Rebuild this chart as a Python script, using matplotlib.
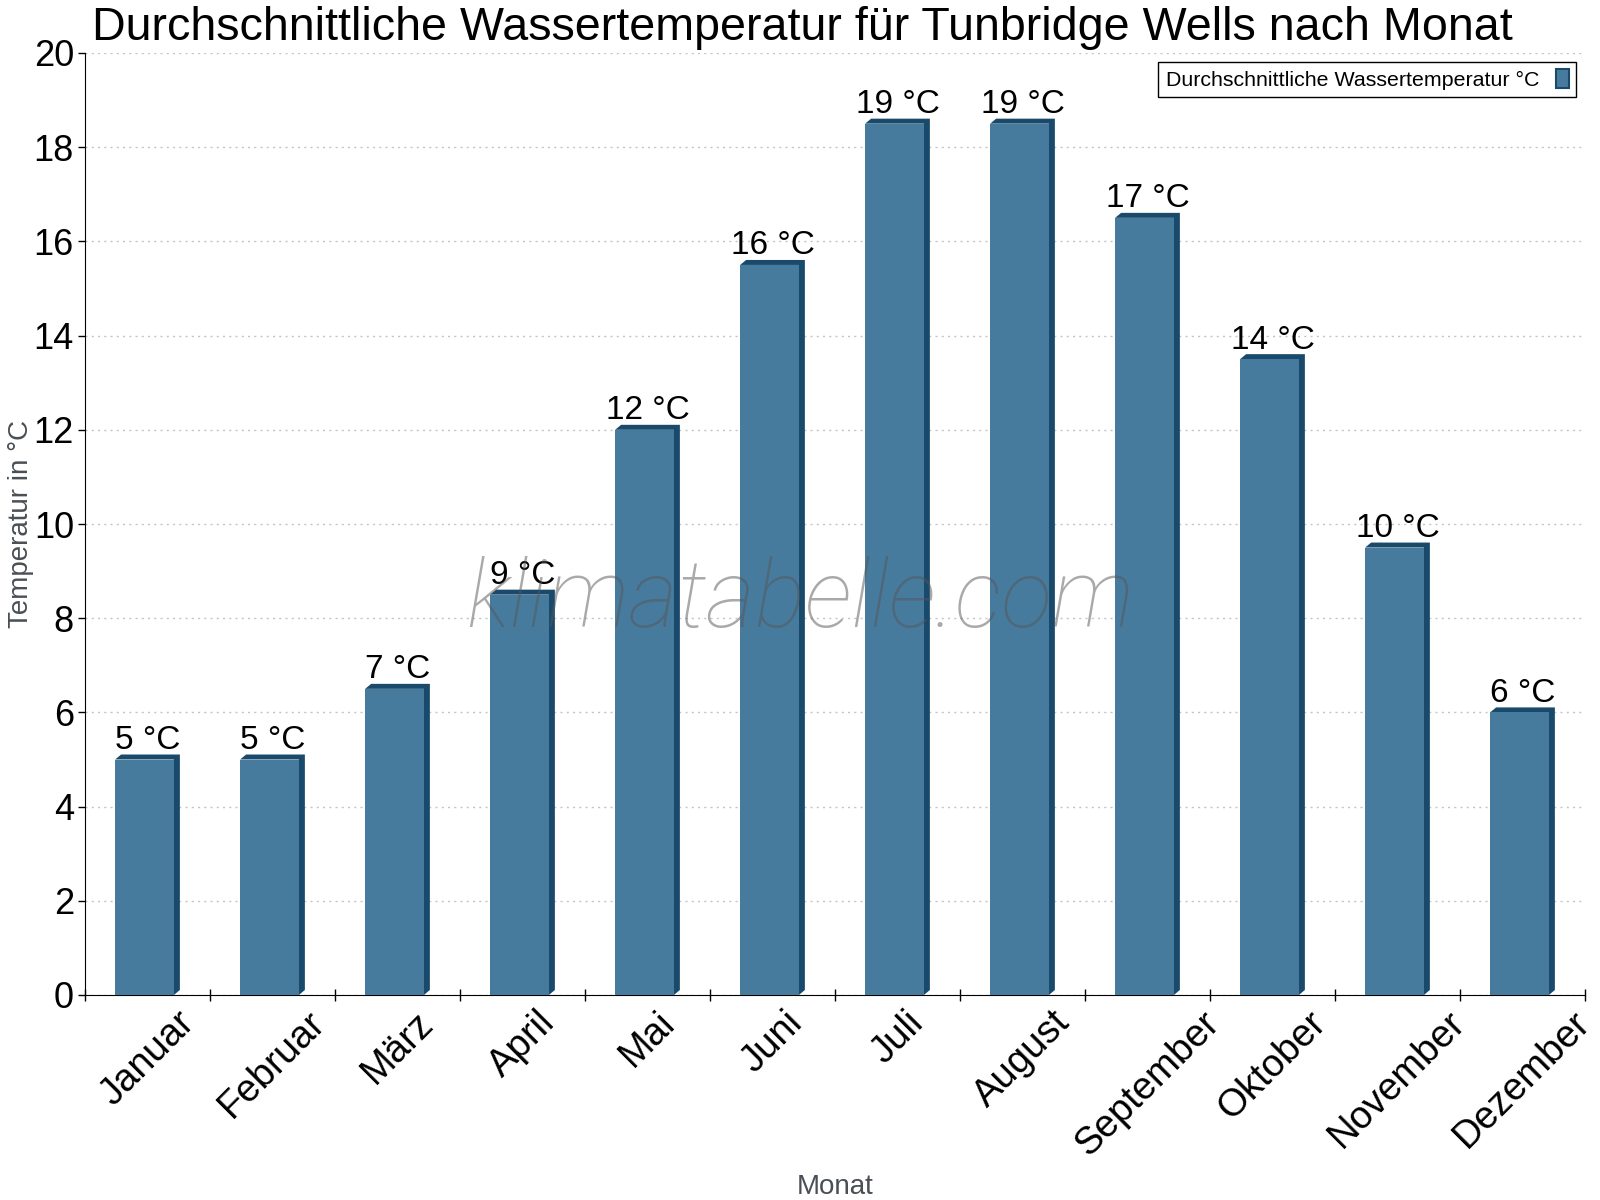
import math

import matplotlib
matplotlib.use("Agg")
import matplotlib.pyplot as plt
from matplotlib.patches import Patch, Polygon
import numpy as np

plt.rcParams["font.family"] = ["Liberation Sans", "DejaVu Sans"]

# %%
# Data

months = ["Januar", "Februar", "März", "April", "Mai", "Juni", "Juli",
          "August", "September", "Oktober", "November", "Dezember"]
water_temp = [5.0, 5.0, 6.5, 8.5, 12.0, 15.5, 18.5, 18.5, 16.5, 13.5, 9.5, 6.0]
y_ticks = [0, 2, 4, 6, 8, 10, 12, 14, 16, 18, 20]

title = "Durchschnittliche Wassertemperatur für Tunbridge Wells nach Monat"
series_name = "Durchschnittliche Wassertemperatur °C"

# %%
# Styles

c_front = "#477b9e"
c_dark = "#1a4a6b"
c_axis_label = "#4a4f55"
width = 0.47
dx, dy = 0.048, 0.106  # pseudo-3D depth in data units

fig = plt.figure(figsize=(16, 12), dpi=100)
ax = fig.add_axes([85 / 1600, 1 - 995 / 1200, 1500 / 1600, 942 / 1200])

x = np.arange(len(months))
for xi, v in zip(x, water_temp):
    x0, x1 = xi - width / 2 - dx / 2, xi + width / 2 - dx / 2
    shade = Polygon([(x0, v), (x0 + dx, v + dy), (x1 + dx, v + dy),
                     (x1 + dx, dy), (x1, 0), (x1, v)],
                    closed=True, facecolor=c_dark, edgecolor="none", zorder=3)
    ax.add_patch(shade)
    ax.bar(xi - dx / 2, v, width=width, color=c_front, zorder=4)
    ax.annotate(f"{math.floor(v + 0.5)} °C", xy=(xi, v + dy), xytext=(0, 4),
                textcoords="offset points", ha="center", va="baseline",
                fontsize=24, zorder=6)

ax.set_xlim(-0.5, len(months) - 0.5)
ax.set_ylim(0, 20)
ax.set_yticks(y_ticks)
ax.tick_params(axis="y", labelsize=26, length=5, width=1, direction="out", pad=3)
ax.set_xticks(x)
ax.set_xticklabels(months, rotation=45, ha="center", va="top", fontsize=27.5)
ax.tick_params(axis="x", which="major", length=0, pad=7)
ax.set_xticks(np.arange(len(months) + 1) - 0.5, minor=True)
ax.tick_params(axis="x", which="minor", length=8, width=1, direction="inout")

for s in ["top", "right"]:
    ax.spines[s].set_visible(False)
ax.grid(axis="y", linestyle=(0, (1.5, 3)), color="#c4c4c4", linewidth=1, zorder=0)
ax.set_axisbelow(True)

ax.set_ylabel("Temperatur in °C", fontsize=20, color=c_axis_label)
ax.yaxis.set_label_coords(-0.034, 0.5)
ax.set_xlabel("Monat", fontsize=20, color=c_axis_label)
ax.xaxis.set_label_coords(0.5, -0.19)

fig.text(92 / 1600, 1 - 40 / 1200, title, fontsize=33.6, ha="left", va="baseline")

handle = Patch(facecolor=c_front, edgecolor=c_dark, linewidth=1.5)
leg = ax.legend([handle], [series_name], loc="upper right", fontsize=15.4,
                markerfirst=False, fancybox=False, framealpha=1, edgecolor="black",
                handlelength=0.6, handleheight=1.0, borderaxespad=0.4,
                borderpad=0.35)
leg.get_frame().set_linewidth(1)

ax.text(0.477, 0.418, "klimatabelle.com", transform=ax.transAxes, ha="center",
        va="center", fontsize=68, family="Roboto", weight="light", style="italic",
        color="#555555", alpha=0.5, zorder=7)

fig.savefig("out.png", dpi=100)
